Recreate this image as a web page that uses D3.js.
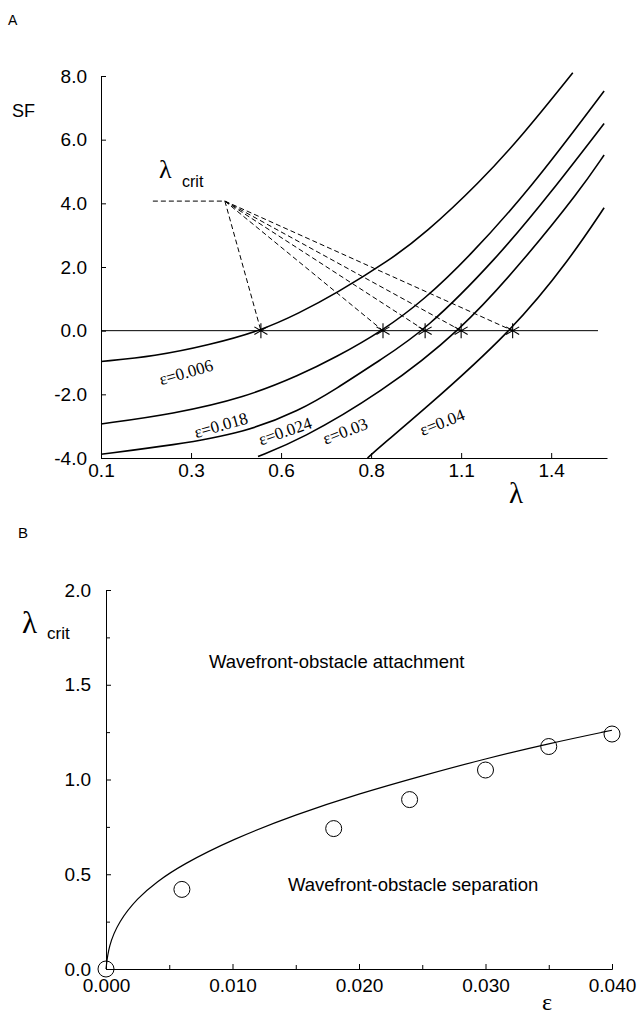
<!DOCTYPE html>
<html>
<head>
<meta charset="utf-8">
<script src="https://cdn.jsdelivr.net/npm/d3@7"></script>
<style>
  body { margin: 0; background: #fff; }
  svg { display: block; }
  .axis text { font-family: "Liberation Sans", Arial, sans-serif; font-size: 19px; fill: #000; }
  .axis path, .axis line { stroke: #000; stroke-width: 1; }
  .sans { font-family: "Liberation Sans", Arial, sans-serif; fill: #000; }
  .serif { font-family: "Liberation Serif", "Times New Roman", serif; fill: #000; }
</style>
</head>
<body>
<div id="chart"></div>
<script>
// ---- panel A data: SF against lambda, one curve per epsilon ----
var lambdaTicks = [0.1, 0.35, 0.6, 0.85, 1.1, 1.35];
var lambdaTickLabels = ["0.1", "0.3", "0.6", "0.8", "1.1", "1.4"];
var sfTicks = [-4, -2, 0, 2, 4, 6, 8];

var epsilons = [0.006, 0.018, 0.024, 0.03, 0.04];
var epsLabels = ["ε=0.006", "ε=0.018", "ε=0.024", "ε=0.03", "ε=0.04"];

var sf006 = [[0.1,-0.97],[0.25,-0.8],[0.4,-0.45],[0.544,0],[0.65,0.55],[0.75,1.15],[0.9,2.2],[1.0,3.05],[1.15,4.64],[1.27,6.13],[1.41,8.1]];
var sf018 = [[0.1,-2.93],[0.3,-2.62],[0.5,-2.1],[0.653,-1.39],[0.75,-0.85],[0.883,0],[1.0,1.0],[1.116,2.25],[1.29,4.42],[1.497,7.53]];
var sf024 = [[0.1,-3.88],[0.3,-3.6],[0.5,-3.2],[0.653,-2.5],[0.75,-1.85],[0.875,-0.92],[1.0,0],[1.199,2.27],[1.35,4.35],[1.497,6.51]];
var sf030 = [[0.536,-3.95],[0.653,-3.43],[0.875,-1.97],[1.1,0],[1.278,2.27],[1.43,4.41],[1.497,5.52]];
var sf040 = [[0.84,-4.0],[0.875,-3.64],[0.986,-2.59],[1.243,0],[1.403,2.27],[1.497,3.86]];

// zero crossings (lambda_crit) marked with stars
var crossings = [0.544, 0.883, 1.0, 1.1, 1.243];
var critApex = [0.444, 4.07];
var critStart = 0.244;

// ---- panel B data: lambda_crit against epsilon ----
var epsTicks = [0, 0.01, 0.02, 0.03, 0.04];
var lamTicks = [0, 0.5, 1.0, 1.5, 2.0];
var epsSim = [0, 0.006, 0.018, 0.024, 0.03, 0.035, 0.04];
var lamSim = [0, 0.42, 0.741, 0.894, 1.05, 1.174, 1.24];
var epsFit = [0, 0.0002, 0.001, 0.0025, 0.004, 0.006, 0.01, 0.015, 0.02, 0.025, 0.03, 0.035, 0.04];
var lamFit = [0, 0.12, 0.25, 0.375, 0.46, 0.55, 0.685, 0.815, 0.925, 1.02, 1.11, 1.19, 1.26];

var svg = d3.select("#chart")
  .append("svg")
    .attr("width", 639)
    .attr("height", 1016);

// ================= panel A =================
var xA = d3.scaleLinear().domain([0.1, 1.505]).range([101, 607]);
var yA = d3.scaleLinear().domain([-4, 8]).range([458, 76]);

svg.append("g")
  .attr("class", "axis")
  .attr("transform", "translate(101,0)")
  .call(d3.axisLeft(yA).tickValues(sfTicks).tickFormat(d => d.toFixed(1)).tickSize(-5).tickPadding(14));

svg.append("g")
  .attr("class", "axis")
  .attr("transform", "translate(0,458)")
  .call(d3.axisBottom(xA).tickValues(lambdaTicks).tickFormat((d, i) => lambdaTickLabels[i])
    .tickSizeInner(-5).tickSizeOuter(0).tickPadding(6));

// zero line
svg.append("line")
  .attr("x1", xA(0.1)).attr("x2", xA(1.48))
  .attr("y1", yA(0)).attr("y2", yA(0))
  .attr("stroke", "#000").attr("stroke-width", 1);

var lineA = d3.line()
  .x(d => xA(d[0]))
  .y(d => yA(d[1]))
  .curve(d3.curveBasis);

var curvesA = [sf006, sf018, sf024, sf030, sf040];
svg.selectAll(".curveA")
  .data(curvesA)
  .join("path")
    .attr("class", "curveA")
    .attr("d", lineA)
    .attr("fill", "none")
    .attr("stroke", "#000")
    .attr("stroke-width", 1.6);

// dashed lambda_crit pointers
svg.append("line")
  .attr("x1", xA(critStart)).attr("x2", xA(critApex[0]))
  .attr("y1", yA(critApex[1])).attr("y2", yA(critApex[1]))
  .attr("stroke", "#000").attr("stroke-dasharray", "5,3");

svg.selectAll(".critline")
  .data(crossings)
  .join("line")
    .attr("class", "critline")
    .attr("x1", xA(critApex[0])).attr("y1", yA(critApex[1]))
    .attr("x2", d => xA(d)).attr("y2", yA(0))
    .attr("stroke", "#000")
    .attr("stroke-width", 1)
    .attr("stroke-dasharray", "5,3");

// stars
var starType = d3.symbolAsterisk || {
  draw: function(ctx, size) {
    var r = Math.sqrt(size) * 0.6, t = r / 2, u = t * Math.sqrt(3);
    ctx.moveTo(0, r); ctx.lineTo(0, -r);
    ctx.moveTo(-u, -t); ctx.lineTo(u, t);
    ctx.moveTo(-u, t); ctx.lineTo(u, -t);
  }
};
svg.selectAll(".star")
  .data(crossings)
  .join("path")
    .attr("class", "star")
    .attr("transform", d => `translate(${xA(d)},${yA(0)})`)
    .attr("d", d3.symbol(starType, 160))
    .attr("fill", "none")
    .attr("stroke", "#000")
    .attr("stroke-width", 1.1);

// epsilon labels along the curves
var labelPos = [[0.336, -1.30, -16], [0.433, -2.96, -16], [0.611, -3.15, -19], [0.778, -3.15, -21], [1.047, -2.87, -21]];
svg.selectAll(".epslab")
  .data(epsLabels)
  .join("text")
    .attr("class", "epslab serif")
    .attr("transform", (d, i) => `translate(${xA(labelPos[i][0])},${yA(labelPos[i][1])}) rotate(${labelPos[i][2]})`)
    .attr("text-anchor", "middle")
    .attr("dy", "0.35em")
    .attr("font-size", 17)
    .text(d => d);

svg.append("text").attr("class", "sans").attr("x", 8).attr("y", 25).attr("font-size", 14).text("A");
svg.append("text").attr("class", "sans").attr("x", 12).attr("y", 117).attr("font-size", 18).text("SF");
svg.append("text").attr("class", "serif").attr("x", 159).attr("y", 178).attr("font-size", 26).text("λ");
svg.append("text").attr("class", "sans").attr("x", 182).attr("y", 187).attr("font-size", 16).text("crit");
svg.append("text").attr("class", "serif").attr("x", 509).attr("y", 503).attr("font-size", 29).text("λ");

// ================= panel B =================
var xB = d3.scaleLinear().domain([0, 0.04]).range([106, 612]);
var yB = d3.scaleLinear().domain([0, 2]).range([969, 590]);

// minor ticks
svg.append("g")
  .attr("class", "axis")
  .attr("transform", "translate(106,0)")
  .call(d3.axisLeft(yB).tickValues([0.25, 0.75, 1.25, 1.75]).tickFormat("").tickSize(-4))
  .select(".domain").remove();
svg.append("g")
  .attr("class", "axis")
  .attr("transform", "translate(0,969)")
  .call(d3.axisBottom(xB).tickValues([0.005, 0.015, 0.025, 0.035]).tickFormat("").tickSize(-4))
  .select(".domain").remove();

svg.append("g")
  .attr("class", "axis")
  .attr("transform", "translate(106,0)")
  .call(d3.axisLeft(yB).tickValues(lamTicks).tickFormat(d => d.toFixed(1)).tickSize(-5).tickPadding(15));

svg.append("g")
  .attr("class", "axis")
  .attr("transform", "translate(0,969)")
  .call(d3.axisBottom(xB).tickValues(epsTicks).tickFormat(d => d.toFixed(3)).tickSize(-5).tickPadding(10));

var lineB = d3.line()
  .x((d, i) => xB(epsFit[i]))
  .y(d => yB(d))
  .curve(d3.curveBasis);

svg.append("path")
  .datum(lamFit)
  .attr("d", lineB)
  .attr("fill", "none")
  .attr("stroke", "#000")
  .attr("stroke-width", 1.2);

svg.selectAll(".sim")
  .data(lamSim)
  .join("circle")
    .attr("class", "sim")
    .attr("cx", (d, i) => xB(epsSim[i]))
    .attr("cy", d => yB(d))
    .attr("r", 8)
    .attr("fill", "none")
    .attr("stroke", "#000")
    .attr("stroke-width", 1);

svg.append("text").attr("class", "sans").attr("x", 18).attr("y", 538).attr("font-size", 15).text("B");
svg.append("text").attr("class", "serif").attr("x", 22).attr("y", 633).attr("font-size", 31).text("λ");
svg.append("text").attr("class", "sans").attr("x", 47).attr("y", 639).attr("font-size", 17).text("crit");
svg.append("text").attr("class", "serif").attr("x", 542).attr("y", 1010).attr("font-size", 24).text("ε");
svg.append("text").attr("class", "sans").attr("x", 209).attr("y", 668).attr("font-size", 18.5).text("Wavefront-obstacle attachment");
svg.append("text").attr("class", "sans").attr("x", 288).attr("y", 891).attr("font-size", 18.5).text("Wavefront-obstacle separation");
</script>
</body>
</html>
